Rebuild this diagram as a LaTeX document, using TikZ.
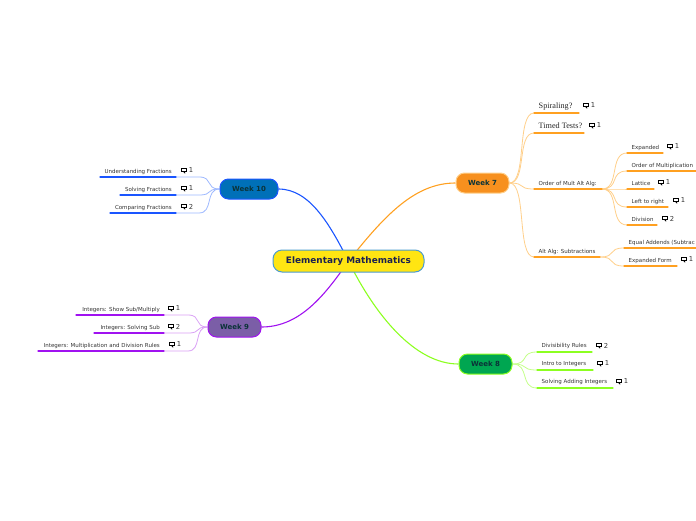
\documentclass[tikz,border=0pt]{standalone}
\usepackage{fontspec}
\setmainfont{DejaVu Sans}
\newfontfamily\serifface{Liberation Serif}
\usetikzlibrary{calc}
\pgfdeclarelayer{bg}
\pgfsetlayers{bg,main}
\definecolor{orangeline}{HTML}{FFA020}
\definecolor{orangesoft}{HTML}{FFCF8A}
\definecolor{blueline}{HTML}{1A55FF}
\definecolor{bluesoft}{HTML}{9DB8FF}
\definecolor{purpleline}{HTML}{A012F0}
\definecolor{purplesoft}{HTML}{D9A0F5}
\definecolor{greenline}{HTML}{8CFF20}
\definecolor{greensoft}{HTML}{C4FF8A}
\definecolor{rootink}{HTML}{1A2050}
\definecolor{weekink}{HTML}{0B3338}
\definecolor{rootedge}{HTML}{4B9BD0}
\tikzset{
  x=1pt,y=-1pt,
  rootbox/.style={draw=#1,rounded corners=9pt,line width=1pt,font=\bfseries\fontsize{8.9}{10}\selectfont,text=rootink,minimum height=22pt,inner sep=0pt,anchor=center},
  weekbox/.style={rounded corners=8.5pt,line width=1pt,font=\bfseries\fontsize{7}{8}\selectfont,text=weekink,minimum height=20pt,inner sep=0pt},
  leaflabel/.style={font=\fontsize{5.5}{6}\selectfont,text=black!80,inner sep=0pt,yshift=-.6pt},
  seriflabel/.style={font=\serifface\fontsize{8.2}{10}\selectfont,text=black!85,inner sep=0pt,yshift=-.6pt},
  countlabel/.style={font=\fontsize{6.8}{8}\selectfont,text=black!80,inner sep=0pt,anchor=west},
  iconbox/.style={draw=black,line width=.9pt,minimum width=5.4pt,minimum height=3pt,inner sep=0pt},
  underline/.style={line width=1.2pt,line cap=round},
  branch/.style={line width=1.1pt},
  twig/.style={line width=.8pt},
}
% name, parent, colour prefix, x1, x2, y, text y, style, text
\newcommand{\RLeaf}[9]{%
  \coordinate (#1-s) at (#4,#6);
  \coordinate (#1-e) at (#5,#6);
  \coordinate (#1-ca) at ($(#2)!.72!(#1-s)$);
  \coordinate (#1-cb) at ($(#2)!.28!(#1-s)$);
  \node[#8,anchor=west] (#1) at (#4+4.5,#7) {#9};
  \begin{pgfonlayer}{bg}
    \draw[twig,draw=#3soft] (#2) .. controls (#1-ca |- #2) and (#1-cb |- #1-s) .. (#1-s);
  \end{pgfonlayer}
  \draw[underline,draw=#3line] (#1-s) -- (#1-e);
}
% name, parent, colour prefix, x1, x2, xbend, y, text
\newcommand{\LLeaf}[8]{%
  \coordinate (#1-s) at (#4,#7);
  \coordinate (#1-e) at (#5,#7);
  \coordinate (#1-b) at (#6,#7);
  \coordinate (#1-ca) at ($(#2)!.72!(#1-b)$);
  \coordinate (#1-cb) at ($(#2)!.28!(#1-b)$);
  \node[leaflabel,anchor=east] (#1) at (#5-4,#7-5.7) {#8};
  \begin{pgfonlayer}{bg}
    \draw[twig,draw=#3soft] (#2) .. controls (#1-ca |- #2) and (#1-cb |- #1-b) .. (#1-b) -- (#1-e);
  \end{pgfonlayer}
  \draw[underline,draw=#3line] (#1-s) -- (#1-e);
}
% name, x, y, number
\newcommand{\Cmt}[4]{%
  \node[iconbox] (#1-i) at (#2,#3-.4) {};
  \fill (#1-i.south)+(-.6,0) -- ++(1.2,0) -- ++(0,1.8) -- cycle;
  \node[countlabel] (#1-c) at (#2+4.6,#3) {#4};
}
\begin{document}
\begin{tikzpicture}
\useasboundingbox (0,0) rectangle (696,520);

\node[rootbox=rootedge,fill={rgb,255:red,255;green,229;blue,18},minimum width=151pt] (root) at (348.5,261) {Elementary Mathematics};
\node[weekbox,fill={rgb,255:red,247;green,144;blue,30},draw=orangesoft,minimum width=53pt] (w7) at (482.5,183) {Week 7};
\node[weekbox,fill={rgb,255:red,0;green,166;blue,81},draw=greenline,minimum width=53pt] (w8) at (485.5,364) {Week 8};
\node[weekbox,fill={rgb,255:red,123;green,94;blue,167},draw=purpleline,minimum width=53pt] (w9) at (234.5,327) {Week 9};
\node[weekbox,fill={rgb,255:red,0;green,112;blue,184},draw=blueline,minimum width=58pt] (w10) at (249,189) {Week 10};

\begin{pgfonlayer}{bg}
  \draw[branch,draw=orangeline] (w7.west) .. controls (415,183) and (385,215) .. (root.center);
  \draw[branch,draw=blueline] (w10.east) .. controls (310,189) and (330,225) .. (root.center);
  \draw[branch,draw=purpleline] (w9.east) .. controls (300,327) and (325,295) .. (root.center);
  \draw[branch,draw=greenline] (w8.west) .. controls (415,364) and (375,315) .. (root.center);
\end{pgfonlayer}

% Week 7
\RLeaf{spi}{w7.east}{orange}{534}{579}{113}{105.5}{seriflabel}{Spiraling?}
\Cmt{spi}{586}{105.5}{1}
\RLeaf{tim}{w7.east}{orange}{534}{584}{133}{125.5}{seriflabel}{Timed Tests?}
\Cmt{tim}{592}{125.5}{1}
\RLeaf{ord}{w7.east}{orange}{534}{602}{189}{183.3}{leaflabel}{Order of Mult Alt Alg:}
\RLeaf{alt}{w7.east}{orange}{534}{600}{257}{251.3}{leaflabel}{Alt Alg: Subtractions}

\RLeaf{exp}{ord-e}{orange}{627}{663}{153}{147.3}{leaflabel}{Expanded}
\Cmt{exp}{670}{146.5}{1}
\RLeaf{omu}{ord-e}{orange}{627}{696}{171}{165.3}{leaflabel}{Order of Multiplication}
\RLeaf{lat}{ord-e}{orange}{627}{654}{189}{183.3}{leaflabel}{Lattice}
\Cmt{lat}{661}{182.5}{1}
\RLeaf{ltr}{ord-e}{orange}{627}{668}{207}{201.3}{leaflabel}{Left to right}
\Cmt{ltr}{676}{200.5}{1}
\RLeaf{div}{ord-e}{orange}{627}{657}{225}{219.3}{leaflabel}{Division}
\Cmt{div}{665}{218.5}{2}

\RLeaf{equ}{alt-e}{orange}{624}{696}{248}{242.3}{leaflabel}{Equal Addends (Subtrac}
\RLeaf{efo}{alt-e}{orange}{624}{677}{266}{260.3}{leaflabel}{Expanded Form}
\Cmt{efo}{684}{259.5}{1}

% Week 8
\RLeaf{dvr}{w8.east}{green}{537}{592}{352}{345.3}{leaflabel}{Divisibility Rules}
\Cmt{dvr}{599}{345.5}{2}
\RLeaf{iti}{w8.east}{green}{537}{593}{370}{363.3}{leaflabel}{Intro to Integers}
\Cmt{iti}{600}{363.5}{1}
\RLeaf{sai}{w8.east}{green}{537}{613}{388}{381.3}{leaflabel}{Solving Adding Integers}
\Cmt{sai}{619}{381.5}{1}

% Week 9
\LLeaf{ssm}{w9.west}{purple}{76}{164}{188}{315}{Integers: Show Sub/Multiply}
\Cmt{ssm}{171}{308.5}{1}
\LLeaf{isb}{w9.west}{purple}{94}{164}{188}{333}{Integers: Solving Sub}
\Cmt{isb}{171}{326.5}{2}
\LLeaf{imd}{w9.west}{purple}{38}{164}{188}{351}{Integers: Multiplication and Division Rules}
\Cmt{imd}{172}{344.5}{1}

% Week 10
\LLeaf{ufr}{w10.west}{blue}{100}{176}{199}{177}{Understanding Fractions}
\Cmt{ufr}{184}{170.5}{1}
\LLeaf{sfr}{w10.west}{blue}{120}{176}{199}{195}{Solving Fractions}
\Cmt{sfr}{184}{188.5}{1}
\LLeaf{cfr}{w10.west}{blue}{110}{176}{199}{213}{Comparing Fractions}
\Cmt{cfr}{184}{206.5}{2}
\end{tikzpicture}
\end{document}
